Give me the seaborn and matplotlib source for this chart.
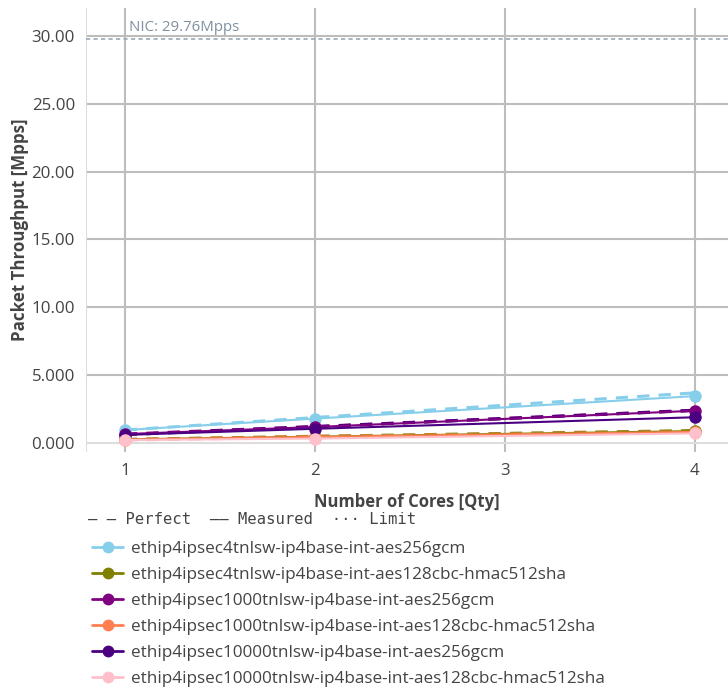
import matplotlib
matplotlib.use("Agg")
import matplotlib.pyplot as plt
from matplotlib.lines import Line2D
import seaborn as sns
import pandas as pd

cores = [1, 2, 4]
series = [
    "ethip4ipsec4tnlsw-ip4base-int-aes256gcm",
    "ethip4ipsec4tnlsw-ip4base-int-aes128cbc-hmac512sha",
    "ethip4ipsec1000tnlsw-ip4base-int-aes256gcm",
    "ethip4ipsec1000tnlsw-ip4base-int-aes128cbc-hmac512sha",
    "ethip4ipsec10000tnlsw-ip4base-int-aes256gcm",
    "ethip4ipsec10000tnlsw-ip4base-int-aes128cbc-hmac512sha",
]
colors = ["#87CEEB", "#808000", "#800080", "#FF7F50", "#4B0082", "#FFC0CB"]
measured = [
    [0.96, 1.80, 3.46],
    [0.27, 0.47, 0.88],
    [0.66, 1.18, 2.38],
    [0.25, 0.45, 0.82],
    [0.60, 1.05, 1.90],
    [0.22, 0.33, 0.71],
]
perfect = [
    [0.96, 1.88, 3.70],
    [0.27, 0.50, 0.92],
    [0.66, 1.22, 2.42],
    [0.25, 0.48, 0.86],
    [0.62, 1.20, 2.40],
    [0.22, 0.42, 0.80],
]
nic_limit = 29.76
yticks = [0, 5, 10, 15, 20, 25, 30]
ytick_labels = ["0.000", "5.000", "10.00", "15.00", "20.00", "25.00", "30.00"]
xticks = [1, 2, 3, 4]

rows_m, rows_p = [], []
for s, m, p in zip(series, measured, perfect):
    for c, v in zip(cores, m):
        rows_m.append({"series": s, "cores": c, "value": v})
    for c, v in zip(cores, p):
        rows_p.append({"series": s, "cores": c, "value": v})
dfm = pd.DataFrame(rows_m)
dfp = pd.DataFrame(rows_p)
pal = dict(zip(series, colors))

sns.set_style("white")
plt.rcParams["font.family"] = ["Open Sans", "DejaVu Sans"]

W, H = 728, 692
fig = plt.figure(figsize=(W / 100, H / 100), dpi=100)
L, R, T, B = 86, 728, 8, 452
ax = fig.add_axes([L / W, 1 - B / H, (R - L) / W, (B - T) / H])

grid_c = "#bdbdbd"
for x in xticks:
    ax.axvline(x, color=grid_c, lw=1.5, zorder=0)
for y in yticks[1:]:
    ax.axhline(y, color=grid_c, lw=1.5, zorder=0)
ax.axhline(0, color="#dddddd", lw=1.5, zorder=0)
ax.axvline(0.795, color="#dddddd", lw=1.5, zorder=0)

ax.axhline(nic_limit, color="#9aa8b6", lw=1.2, ls=(0, (2.5, 2)), zorder=1)
ax.text(1.02, nic_limit + 0.3, "NIC: 29.76Mpps", color="#7f8fa0", fontsize=10.8,
        va="bottom", ha="left")

sns.lineplot(data=dfp, x="cores", y="value", hue="series", palette=pal,
             ax=ax, legend=False, lw=2.2, zorder=2,
             estimator=None, sort=False)
for line in ax.lines[-len(series):]:
    line.set_dashes((4, 3))
sns.lineplot(data=dfm, x="cores", y="value", hue="series", palette=pal,
             ax=ax, legend=False, lw=1.5, marker="o", markersize=9,
             markeredgewidth=0, estimator=None, sort=False, zorder=3)

ax.set_xlim(0.795, 4.174)
ax.set_ylim(-0.66, 32.06)
ax.set_xticks(xticks)
ax.set_xticklabels([str(x) for x in xticks], fontsize=12.2, color="#444444")
ax.set_yticks(yticks)
ax.set_yticklabels(ytick_labels, fontsize=12.2, color="#444444")
ax.tick_params(axis="both", length=5, color="#dddddd", width=1, pad=3)
for sp in ax.spines.values():
    sp.set_visible(False)
ax.set_xlabel("Number of Cores [Qty]", fontsize=12, fontweight="bold",
              color="#444444", labelpad=10)
ax.set_ylabel("Packet Throughput [Mpps]", fontsize=12.2, fontweight="bold",
              color="#444444", labelpad=2)

fig.text(88 / W, 1 - 520 / H, "— — Perfect  —— Measured  ··· Limit",
         family="DejaVu Sans Mono", fontsize=11.2, color="#444444", va="center")

handles = [Line2D([0], [0], color=c, lw=2, marker="o", markersize=7.5)
           for c in colors]
leg = fig.legend(handles, series, loc="upper left",
                 bbox_to_anchor=(92 / W, 1 - 541 / H), frameon=False,
                 fontsize=12.3, labelspacing=0.585, handlelength=1.82,
                 handletextpad=0.45, borderaxespad=0, borderpad=0)
for t in leg.get_texts():
    t.set_color("#444444")

fig.savefig("out.png", dpi=100)
